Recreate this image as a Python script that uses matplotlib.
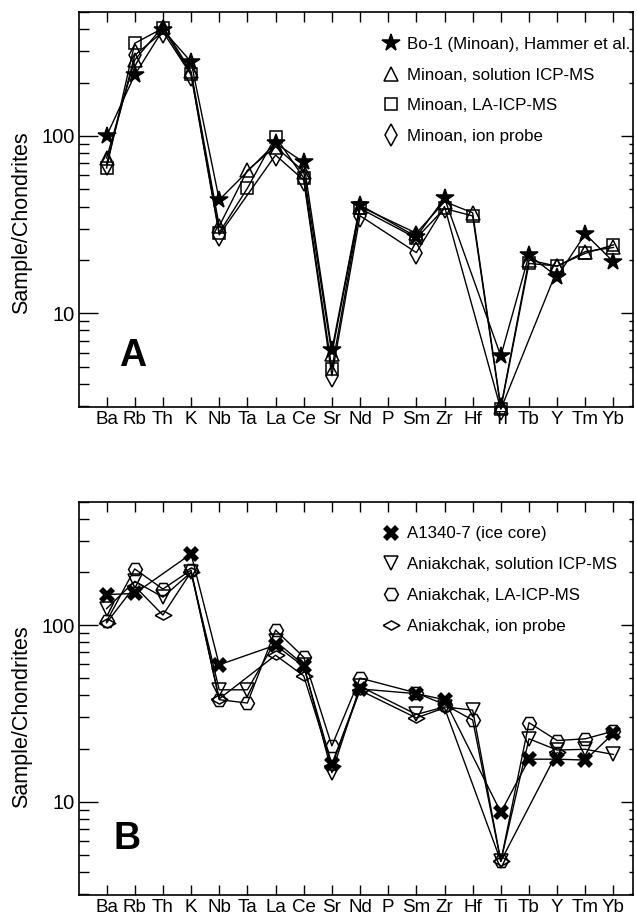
import numpy as np
import matplotlib
matplotlib.use('Agg')
import matplotlib.pyplot as plt
from matplotlib.lines import Line2D

plt.rcParams['font.family'] = ['Liberation Sans', 'DejaVu Sans']

nan = np.nan

elements = ['Ba', 'Rb', 'Th', 'K', 'Nb', 'Ta', 'La', 'Ce', 'Sr', 'Nd', 'P',
            'Sm', 'Zr', 'Hf', 'Ti', 'Tb', 'Y', 'Tm', 'Yb']

# Panel A: Minoan
bo1 = [100, 221, 396, 262, 43.6, nan, 91, 71, 6.2, 40.8, nan,
       27, 44.6, nan, 5.74, 21.3, 16.1, 28, 19.5]
minoan_sol = [75, 268, 414, 231, 31, 64, 87, 63, 5.9, 40, nan,
              28.3, 42.6, 36.9, 2.95, 20.0, 18.4, 22.3, 23.5]
minoan_la = [66, 333, 405, 224, 28.5, 50.7, 99, 58, 4.85, 39, nan,
             26.5, 39, 35.4, 2.9, 19.1, 18.5, 21.8, 24.3]
minoan_ion = [69.5, 285, 387, 221, 27.7, nan, 78, 56.4, 4.45, 35.5, nan,
              22, 40, nan, 2.88, nan, 17.6, nan, nan]

# Panel B: Aniakchak
a1340 = [149, 151, nan, 253, 59.6, nan, 77, 58.3, 16.3, 43.5, nan,
         40.9, 37.8, nan, 8.7, 17.4, 17.4, 17.2, 24.4]
ani_sol = [124, 177, 144, 199, 43, 43, 81, 59.6, 14.6, 45, nan,
           31.2, 34.4, 33, 4.6, 22.7, 19.6, 19.8, 18.5]
ani_la = [105, 208, 160, 205, 37.8, 36.2, 93.7, 65.8, 20.7, 50.1, nan,
          41.3, 35.5, 29, 4.6, 28, 22.2, 22.7, 25.1]
ani_ion = [103, 166, 114, 200, 38.2, nan, 67.5, 51.6, 16, 42.7, nan,
           29.8, 34, nan, 4.6, nan, 19, nan, nan]

wide_diamond = [(-1, 0), (0, 0.55), (1, 0), (0, -0.55), (-1, 0)]

series_a = [
    (bo1, 'Bo-1 (Minoan), Hammer et al.', dict(marker='*', ms=13, mfc='black')),
    (minoan_sol, 'Minoan, solution ICP-MS', dict(marker='^', ms=10, mfc='none')),
    (minoan_la, 'Minoan, LA-ICP-MS', dict(marker='s', ms=9, mfc='none')),
    (minoan_ion, 'Minoan, ion probe', dict(marker='d', ms=11, mfc='none')),
]
series_b = [
    (a1340, 'A1340-7 (ice core)', dict(marker='X', ms=11, mfc='black', mew=0)),
    (ani_sol, 'Aniakchak, solution ICP-MS', dict(marker='v', ms=10, mfc='none')),
    (ani_la, 'Aniakchak, LA-ICP-MS', dict(marker='H', ms=10, mfc='none')),
    (ani_ion, 'Aniakchak, ion probe', dict(marker=wide_diamond, ms=12, mfc='none')),
]

x = np.arange(len(elements))
fig = plt.figure(figsize=(6.37, 9.21), dpi=100)
ax_a = fig.add_axes([0.124, 0.558, 0.870, 0.429])
ax_b = fig.add_axes([0.124, 0.0282, 0.870, 0.4271])


def draw_panel(ax, series, letter, letter_pos, ylab_y):
    handles = []
    for vals, label, style in series:
        y = np.array(vals, dtype=float)
        ok = np.isfinite(y)
        kw = dict(color='black', mec='black', lw=1.0, mew=1.1)
        kw.update(style)
        ax.plot(x[ok], y[ok], clip_on=False, zorder=3, **kw)
        hk = dict(kw)
        hk['lw'] = 0
        handles.append(Line2D([], [], linestyle='none', label=label, **hk))

    ax.set_yscale('log')
    ax.set_ylim(2.96, 500)
    ax.set_xlim(-0.98, 18.7)
    ax.set_xticks(x)
    ax.set_xticklabels(elements)
    ax.set_yticks([10, 100])
    ax.set_yticklabels(['10', '100'])
    ax.yaxis.set_minor_formatter(plt.NullFormatter())
    ax.tick_params(axis='x', which='both', direction='in', top=True,
                   length=7.2, width=1.0, labelsize=13.5, pad=3)
    ax.tick_params(axis='y', which='major', direction='in', right=False,
                   length=13.7, width=1.0, labelsize=14.5, pad=3)
    ax.tick_params(axis='y', which='minor', direction='in', right=False,
                   length=7.2, width=1.0)
    for sp in ax.spines.values():
        sp.set_linewidth(1.2)

    rt = ax.twinx()
    rt.set_yscale('log')
    rt.set_ylim(ax.get_ylim())
    rt.yaxis.set_minor_formatter(plt.NullFormatter())
    rt.set_yticks([10, 100])
    rt.tick_params(axis='y', which='major', direction='in', length=8.6,
                   width=1.0, labelright=False)
    rt.tick_params(axis='y', which='minor', direction='in', length=3.0,
                   width=1.0, labelright=False)
    for sp in rt.spines.values():
        sp.set_visible(False)

    ax.set_ylabel('Sample/Chondrites', fontsize=15.5)
    ax.yaxis.set_label_coords(-0.085, ylab_y)
    ax.text(letter_pos[0], letter_pos[1], letter, transform=ax.transAxes,
            fontsize=27, fontweight='bold', ha='center', va='center')

    ax.legend(handles=handles, loc='upper left', bbox_to_anchor=(0.548, 0.937),
              frameon=False, fontsize=12.2, handlelength=1.0,
              handletextpad=0.45, labelspacing=0.93, borderpad=0,
              borderaxespad=0)


draw_panel(ax_a, series_a, 'A', (0.0975, 0.129), 0.467)
draw_panel(ax_b, series_b, 'B', (0.0866, 0.142), 0.454)

fig.savefig('out.png', dpi=100)
